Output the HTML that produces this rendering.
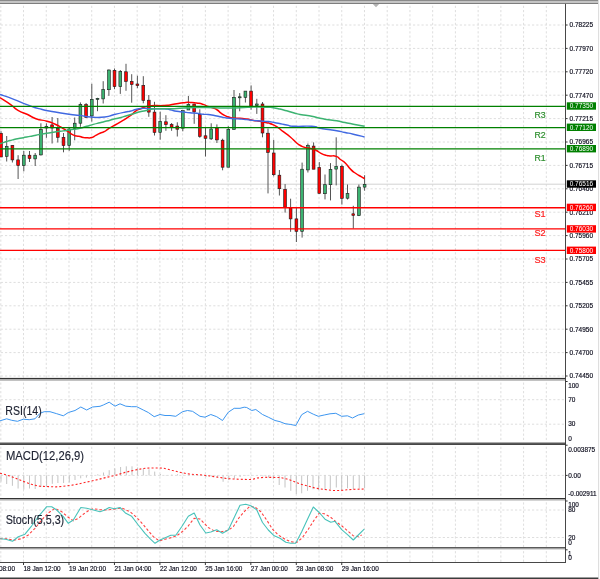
<!DOCTYPE html>
<html><head><meta charset="utf-8"><title>Chart</title>
<style>html,body{margin:0;padding:0;background:#fff;}body{width:600px;height:579px;position:relative;overflow:hidden;}</style>
</head><body>
<svg width="600" height="579" viewBox="0 0 600 579" style="position:absolute;left:0;top:0;display:block">
<rect x="0" y="0" width="600" height="579" fill="#ffffff"/>
<g stroke="#dedede" stroke-width="1" stroke-dasharray="2.2 2.05" stroke-dashoffset="3.5" fill="none">
<line x1="0.8" y1="5" x2="0.8" y2="378"/>
<line x1="23.53" y1="5" x2="23.53" y2="378"/>
<line x1="46.26" y1="5" x2="46.26" y2="378"/>
<line x1="68.99" y1="5" x2="68.99" y2="378"/>
<line x1="91.72" y1="5" x2="91.72" y2="378"/>
<line x1="114.45" y1="5" x2="114.45" y2="378"/>
<line x1="137.18" y1="5" x2="137.18" y2="378"/>
<line x1="159.91" y1="5" x2="159.91" y2="378"/>
<line x1="182.64" y1="5" x2="182.64" y2="378"/>
<line x1="205.37" y1="5" x2="205.37" y2="378"/>
<line x1="228.1" y1="5" x2="228.1" y2="378"/>
<line x1="250.83" y1="5" x2="250.83" y2="378"/>
<line x1="273.56" y1="5" x2="273.56" y2="378"/>
<line x1="296.29" y1="5" x2="296.29" y2="378"/>
<line x1="319.02" y1="5" x2="319.02" y2="378"/>
<line x1="341.75" y1="5" x2="341.75" y2="378"/>
<line x1="364.48" y1="5" x2="364.48" y2="378"/>
<line x1="387.21" y1="5" x2="387.21" y2="378"/>
<line x1="409.94" y1="5" x2="409.94" y2="378"/>
<line x1="432.67" y1="5" x2="432.67" y2="378"/>
<line x1="455.4" y1="5" x2="455.4" y2="378"/>
<line x1="478.13" y1="5" x2="478.13" y2="378"/>
<line x1="500.86" y1="5" x2="500.86" y2="378"/>
<line x1="523.59" y1="5" x2="523.59" y2="378"/>
<line x1="546.32" y1="5" x2="546.32" y2="378"/>
<line x1="0.8" y1="381.8" x2="0.8" y2="442.4"/>
<line x1="23.53" y1="381.8" x2="23.53" y2="442.4"/>
<line x1="46.26" y1="381.8" x2="46.26" y2="442.4"/>
<line x1="68.99" y1="381.8" x2="68.99" y2="442.4"/>
<line x1="91.72" y1="381.8" x2="91.72" y2="442.4"/>
<line x1="114.45" y1="381.8" x2="114.45" y2="442.4"/>
<line x1="137.18" y1="381.8" x2="137.18" y2="442.4"/>
<line x1="159.91" y1="381.8" x2="159.91" y2="442.4"/>
<line x1="182.64" y1="381.8" x2="182.64" y2="442.4"/>
<line x1="205.37" y1="381.8" x2="205.37" y2="442.4"/>
<line x1="228.1" y1="381.8" x2="228.1" y2="442.4"/>
<line x1="250.83" y1="381.8" x2="250.83" y2="442.4"/>
<line x1="273.56" y1="381.8" x2="273.56" y2="442.4"/>
<line x1="296.29" y1="381.8" x2="296.29" y2="442.4"/>
<line x1="319.02" y1="381.8" x2="319.02" y2="442.4"/>
<line x1="341.75" y1="381.8" x2="341.75" y2="442.4"/>
<line x1="364.48" y1="381.8" x2="364.48" y2="442.4"/>
<line x1="387.21" y1="381.8" x2="387.21" y2="442.4"/>
<line x1="409.94" y1="381.8" x2="409.94" y2="442.4"/>
<line x1="432.67" y1="381.8" x2="432.67" y2="442.4"/>
<line x1="455.4" y1="381.8" x2="455.4" y2="442.4"/>
<line x1="478.13" y1="381.8" x2="478.13" y2="442.4"/>
<line x1="500.86" y1="381.8" x2="500.86" y2="442.4"/>
<line x1="523.59" y1="381.8" x2="523.59" y2="442.4"/>
<line x1="546.32" y1="381.8" x2="546.32" y2="442.4"/>
<line x1="0.8" y1="446" x2="0.8" y2="498"/>
<line x1="23.53" y1="446" x2="23.53" y2="498"/>
<line x1="46.26" y1="446" x2="46.26" y2="498"/>
<line x1="68.99" y1="446" x2="68.99" y2="498"/>
<line x1="91.72" y1="446" x2="91.72" y2="498"/>
<line x1="114.45" y1="446" x2="114.45" y2="498"/>
<line x1="137.18" y1="446" x2="137.18" y2="498"/>
<line x1="159.91" y1="446" x2="159.91" y2="498"/>
<line x1="182.64" y1="446" x2="182.64" y2="498"/>
<line x1="205.37" y1="446" x2="205.37" y2="498"/>
<line x1="228.1" y1="446" x2="228.1" y2="498"/>
<line x1="250.83" y1="446" x2="250.83" y2="498"/>
<line x1="273.56" y1="446" x2="273.56" y2="498"/>
<line x1="296.29" y1="446" x2="296.29" y2="498"/>
<line x1="319.02" y1="446" x2="319.02" y2="498"/>
<line x1="341.75" y1="446" x2="341.75" y2="498"/>
<line x1="364.48" y1="446" x2="364.48" y2="498"/>
<line x1="387.21" y1="446" x2="387.21" y2="498"/>
<line x1="409.94" y1="446" x2="409.94" y2="498"/>
<line x1="432.67" y1="446" x2="432.67" y2="498"/>
<line x1="455.4" y1="446" x2="455.4" y2="498"/>
<line x1="478.13" y1="446" x2="478.13" y2="498"/>
<line x1="500.86" y1="446" x2="500.86" y2="498"/>
<line x1="523.59" y1="446" x2="523.59" y2="498"/>
<line x1="546.32" y1="446" x2="546.32" y2="498"/>
<line x1="0.8" y1="501.6" x2="0.8" y2="547.2"/>
<line x1="23.53" y1="501.6" x2="23.53" y2="547.2"/>
<line x1="46.26" y1="501.6" x2="46.26" y2="547.2"/>
<line x1="68.99" y1="501.6" x2="68.99" y2="547.2"/>
<line x1="91.72" y1="501.6" x2="91.72" y2="547.2"/>
<line x1="114.45" y1="501.6" x2="114.45" y2="547.2"/>
<line x1="137.18" y1="501.6" x2="137.18" y2="547.2"/>
<line x1="159.91" y1="501.6" x2="159.91" y2="547.2"/>
<line x1="182.64" y1="501.6" x2="182.64" y2="547.2"/>
<line x1="205.37" y1="501.6" x2="205.37" y2="547.2"/>
<line x1="228.1" y1="501.6" x2="228.1" y2="547.2"/>
<line x1="250.83" y1="501.6" x2="250.83" y2="547.2"/>
<line x1="273.56" y1="501.6" x2="273.56" y2="547.2"/>
<line x1="296.29" y1="501.6" x2="296.29" y2="547.2"/>
<line x1="319.02" y1="501.6" x2="319.02" y2="547.2"/>
<line x1="341.75" y1="501.6" x2="341.75" y2="547.2"/>
<line x1="364.48" y1="501.6" x2="364.48" y2="547.2"/>
<line x1="387.21" y1="501.6" x2="387.21" y2="547.2"/>
<line x1="409.94" y1="501.6" x2="409.94" y2="547.2"/>
<line x1="432.67" y1="501.6" x2="432.67" y2="547.2"/>
<line x1="455.4" y1="501.6" x2="455.4" y2="547.2"/>
<line x1="478.13" y1="501.6" x2="478.13" y2="547.2"/>
<line x1="500.86" y1="501.6" x2="500.86" y2="547.2"/>
<line x1="523.59" y1="501.6" x2="523.59" y2="547.2"/>
<line x1="546.32" y1="501.6" x2="546.32" y2="547.2"/>
<line x1="0.8" y1="550.4" x2="0.8" y2="562"/>
<line x1="23.53" y1="550.4" x2="23.53" y2="562"/>
<line x1="46.26" y1="550.4" x2="46.26" y2="562"/>
<line x1="68.99" y1="550.4" x2="68.99" y2="562"/>
<line x1="91.72" y1="550.4" x2="91.72" y2="562"/>
<line x1="114.45" y1="550.4" x2="114.45" y2="562"/>
<line x1="137.18" y1="550.4" x2="137.18" y2="562"/>
<line x1="159.91" y1="550.4" x2="159.91" y2="562"/>
<line x1="182.64" y1="550.4" x2="182.64" y2="562"/>
<line x1="205.37" y1="550.4" x2="205.37" y2="562"/>
<line x1="228.1" y1="550.4" x2="228.1" y2="562"/>
<line x1="250.83" y1="550.4" x2="250.83" y2="562"/>
<line x1="273.56" y1="550.4" x2="273.56" y2="562"/>
<line x1="296.29" y1="550.4" x2="296.29" y2="562"/>
<line x1="319.02" y1="550.4" x2="319.02" y2="562"/>
<line x1="341.75" y1="550.4" x2="341.75" y2="562"/>
<line x1="364.48" y1="550.4" x2="364.48" y2="562"/>
<line x1="387.21" y1="550.4" x2="387.21" y2="562"/>
<line x1="409.94" y1="550.4" x2="409.94" y2="562"/>
<line x1="432.67" y1="550.4" x2="432.67" y2="562"/>
<line x1="455.4" y1="550.4" x2="455.4" y2="562"/>
<line x1="478.13" y1="550.4" x2="478.13" y2="562"/>
<line x1="500.86" y1="550.4" x2="500.86" y2="562"/>
<line x1="523.59" y1="550.4" x2="523.59" y2="562"/>
<line x1="546.32" y1="550.4" x2="546.32" y2="562"/>
<line x1="0" y1="25" x2="565" y2="25"/>
<line x1="0" y1="48.4" x2="565" y2="48.4"/>
<line x1="0" y1="71.8" x2="565" y2="71.8"/>
<line x1="0" y1="95.2" x2="565" y2="95.2"/>
<line x1="0" y1="118.6" x2="565" y2="118.6"/>
<line x1="0" y1="142" x2="565" y2="142"/>
<line x1="0" y1="165.4" x2="565" y2="165.4"/>
<line x1="0" y1="188.8" x2="565" y2="188.8"/>
<line x1="0" y1="212.2" x2="565" y2="212.2"/>
<line x1="0" y1="235.6" x2="565" y2="235.6"/>
<line x1="0" y1="259" x2="565" y2="259"/>
<line x1="0" y1="282.4" x2="565" y2="282.4"/>
<line x1="0" y1="305.8" x2="565" y2="305.8"/>
<line x1="0" y1="329.2" x2="565" y2="329.2"/>
<line x1="0" y1="352.6" x2="565" y2="352.6"/>
<line x1="0" y1="376" x2="565" y2="376"/>
<line x1="0" y1="399.7" x2="565" y2="399.7"/>
<line x1="0" y1="424.2" x2="565" y2="424.2"/>
<line x1="0" y1="475.4" x2="565" y2="475.4"/>
<line x1="0" y1="510" x2="565" y2="510"/>
<line x1="0" y1="537.5" x2="565" y2="537.5"/>
</g>
<line x1="0" y1="184.2" x2="565" y2="184.2" stroke="#d2d2d2" stroke-width="1"/>
<g>
<line x1="1" y1="131.2" x2="1" y2="157" stroke="#555" stroke-width="1"/>
<line x1="6.7" y1="136" x2="6.7" y2="161.5" stroke="#555" stroke-width="1"/>
<line x1="12.4" y1="145" x2="12.4" y2="162.5" stroke="#555" stroke-width="1"/>
<line x1="18.1" y1="155.2" x2="18.1" y2="179" stroke="#555" stroke-width="1"/>
<line x1="23.8" y1="151" x2="23.8" y2="171.3" stroke="#555" stroke-width="1"/>
<line x1="29.5" y1="151" x2="29.5" y2="162" stroke="#555" stroke-width="1"/>
<line x1="35.2" y1="153" x2="35.2" y2="166" stroke="#555" stroke-width="1"/>
<line x1="40.9" y1="123.3" x2="40.9" y2="155.5" stroke="#555" stroke-width="1"/>
<line x1="46.4" y1="123.3" x2="46.4" y2="137.8" stroke="#555" stroke-width="1"/>
<line x1="52.1" y1="117" x2="52.1" y2="143.5" stroke="#555" stroke-width="1"/>
<line x1="57.8" y1="118" x2="57.8" y2="142.5" stroke="#555" stroke-width="1"/>
<line x1="63.5" y1="133" x2="63.5" y2="152.3" stroke="#555" stroke-width="1"/>
<line x1="69.2" y1="128" x2="69.2" y2="150.8" stroke="#555" stroke-width="1"/>
<line x1="74.7" y1="117.5" x2="74.7" y2="140.3" stroke="#555" stroke-width="1"/>
<line x1="80.4" y1="102.4" x2="80.4" y2="126.8" stroke="#555" stroke-width="1"/>
<line x1="86.1" y1="103" x2="86.1" y2="118" stroke="#555" stroke-width="1"/>
<line x1="91.8" y1="83.8" x2="91.8" y2="121.6" stroke="#555" stroke-width="1"/>
<line x1="97.5" y1="97.8" x2="97.5" y2="111.2" stroke="#555" stroke-width="1"/>
<line x1="103.2" y1="81.2" x2="103.2" y2="103.5" stroke="#555" stroke-width="1"/>
<line x1="108.9" y1="69.5" x2="108.9" y2="95.9" stroke="#555" stroke-width="1"/>
<line x1="114.5" y1="68.5" x2="114.5" y2="89.2" stroke="#555" stroke-width="1"/>
<line x1="120.3" y1="70" x2="120.3" y2="93.9" stroke="#555" stroke-width="1"/>
<line x1="126" y1="63.8" x2="126" y2="90.8" stroke="#555" stroke-width="1"/>
<line x1="131.7" y1="74.2" x2="131.7" y2="102.7" stroke="#555" stroke-width="1"/>
<line x1="137.4" y1="75.7" x2="137.4" y2="88.2" stroke="#555" stroke-width="1"/>
<line x1="143.3" y1="76.2" x2="143.3" y2="103.3" stroke="#555" stroke-width="1"/>
<line x1="148.8" y1="95" x2="148.8" y2="116.8" stroke="#555" stroke-width="1"/>
<line x1="154.5" y1="101.8" x2="154.5" y2="135.5" stroke="#555" stroke-width="1"/>
<line x1="160.2" y1="111.6" x2="160.2" y2="139.7" stroke="#555" stroke-width="1"/>
<line x1="165.9" y1="115.2" x2="165.9" y2="130.8" stroke="#555" stroke-width="1"/>
<line x1="171.6" y1="123" x2="171.6" y2="130.8" stroke="#555" stroke-width="1"/>
<line x1="177.3" y1="122.3" x2="177.3" y2="136.5" stroke="#555" stroke-width="1"/>
<line x1="182.8" y1="110.6" x2="182.8" y2="131.3" stroke="#555" stroke-width="1"/>
<line x1="188.4" y1="96" x2="188.4" y2="110" stroke="#555" stroke-width="1"/>
<line x1="194.2" y1="103.6" x2="194.2" y2="123.8" stroke="#555" stroke-width="1"/>
<line x1="199.8" y1="109.3" x2="199.8" y2="137.8" stroke="#555" stroke-width="1"/>
<line x1="205.5" y1="126.9" x2="205.5" y2="156.5" stroke="#555" stroke-width="1"/>
<line x1="211.2" y1="123.3" x2="211.2" y2="139.9" stroke="#555" stroke-width="1"/>
<line x1="216.9" y1="124.4" x2="216.9" y2="143" stroke="#555" stroke-width="1"/>
<line x1="222.6" y1="138.7" x2="222.6" y2="170.3" stroke="#555" stroke-width="1"/>
<line x1="228.3" y1="126.2" x2="228.3" y2="167.2" stroke="#555" stroke-width="1"/>
<line x1="234" y1="90" x2="234" y2="129.4" stroke="#555" stroke-width="1"/>
<line x1="239.7" y1="93.1" x2="239.7" y2="111.3" stroke="#555" stroke-width="1"/>
<line x1="245.4" y1="91.1" x2="245.4" y2="102.5" stroke="#555" stroke-width="1"/>
<line x1="251.1" y1="85.4" x2="251.1" y2="109.7" stroke="#555" stroke-width="1"/>
<line x1="256.8" y1="98.8" x2="256.8" y2="113.9" stroke="#555" stroke-width="1"/>
<line x1="262.5" y1="102" x2="262.5" y2="137.3" stroke="#555" stroke-width="1"/>
<line x1="268" y1="128.5" x2="268" y2="193.4" stroke="#555" stroke-width="1"/>
<line x1="273.7" y1="139.9" x2="273.7" y2="176.3" stroke="#555" stroke-width="1"/>
<line x1="279.4" y1="170" x2="279.4" y2="195.5" stroke="#555" stroke-width="1"/>
<line x1="285.1" y1="184.1" x2="285.1" y2="212.6" stroke="#555" stroke-width="1"/>
<line x1="290.6" y1="198.7" x2="290.6" y2="231.8" stroke="#555" stroke-width="1"/>
<line x1="296.4" y1="208" x2="296.4" y2="242" stroke="#555" stroke-width="1"/>
<line x1="302.1" y1="162.6" x2="302.1" y2="237.6" stroke="#555" stroke-width="1"/>
<line x1="307.9" y1="143.5" x2="307.9" y2="172.5" stroke="#555" stroke-width="1"/>
<line x1="313.6" y1="142.4" x2="313.6" y2="169.2" stroke="#555" stroke-width="1"/>
<line x1="319.3" y1="162.1" x2="319.3" y2="193.4" stroke="#555" stroke-width="1"/>
<line x1="325" y1="174.5" x2="325" y2="199.4" stroke="#555" stroke-width="1"/>
<line x1="330.5" y1="163.1" x2="330.5" y2="200.4" stroke="#555" stroke-width="1"/>
<line x1="336.2" y1="137.3" x2="336.2" y2="185.4" stroke="#555" stroke-width="1"/>
<line x1="341.9" y1="164.7" x2="341.9" y2="204.6" stroke="#555" stroke-width="1"/>
<line x1="347.5" y1="184.5" x2="347.5" y2="199.5" stroke="#555" stroke-width="1"/>
<line x1="353.3" y1="205.8" x2="353.3" y2="228.5" stroke="#555" stroke-width="1"/>
<line x1="358.9" y1="184.5" x2="358.9" y2="216.1" stroke="#555" stroke-width="1"/>
<line x1="364.6" y1="175.2" x2="364.6" y2="190.7" stroke="#555" stroke-width="1"/>
<rect x="-0.4" y="133.3" width="2.8" height="23.7" fill="#ff0000" stroke="#1a1a1a" stroke-width="0.6"/>
<rect x="5.3" y="146.4" width="2.8" height="9.9" fill="#3cb371" stroke="#1a1a1a" stroke-width="0.6"/>
<rect x="11" y="145.4" width="2.8" height="14.5" fill="#ff0000" stroke="#1a1a1a" stroke-width="0.6"/>
<rect x="16.7" y="159.9" width="2.8" height="5.7" fill="#ff0000" stroke="#1a1a1a" stroke-width="0.6"/>
<rect x="22.4" y="155.2" width="2.8" height="10.4" fill="#3cb371" stroke="#1a1a1a" stroke-width="0.6"/>
<rect x="28.1" y="155.2" width="2.8" height="3.3" fill="#ff0000" stroke="#1a1a1a" stroke-width="0.6"/>
<rect x="33.8" y="155.2" width="2.8" height="3.7" fill="#3cb371" stroke="#1a1a1a" stroke-width="0.6"/>
<rect x="39.5" y="129.5" width="2.8" height="25.4" fill="#3cb371" stroke="#1a1a1a" stroke-width="0.6"/>
<rect x="45" y="126.4" width="2.8" height="1.6" fill="#3cb371" stroke="#1a1a1a" stroke-width="0.6"/>
<rect x="50.7" y="124.9" width="2.8" height="3.1" fill="#ff0000" stroke="#1a1a1a" stroke-width="0.6"/>
<rect x="56.4" y="128.5" width="2.8" height="8.8" fill="#ff0000" stroke="#1a1a1a" stroke-width="0.6"/>
<rect x="62.1" y="137.3" width="2.8" height="8.3" fill="#ff0000" stroke="#1a1a1a" stroke-width="0.6"/>
<rect x="67.8" y="129" width="2.8" height="16.6" fill="#3cb371" stroke="#1a1a1a" stroke-width="0.6"/>
<rect x="73.3" y="123.2" width="2.8" height="5.1" fill="#3cb371" stroke="#1a1a1a" stroke-width="0.6"/>
<rect x="79" y="104.5" width="2.8" height="18.7" fill="#3cb371" stroke="#1a1a1a" stroke-width="0.6"/>
<rect x="84.7" y="104.5" width="2.8" height="13" fill="#ff0000" stroke="#1a1a1a" stroke-width="0.6"/>
<rect x="90.4" y="99.3" width="2.8" height="16.6" fill="#3cb371" stroke="#1a1a1a" stroke-width="0.6"/>
<rect x="96.1" y="98.3" width="2.8" height="1.2" fill="#3cb371" stroke="#1a1a1a" stroke-width="0.6"/>
<rect x="101.8" y="89.5" width="2.8" height="9.4" fill="#3cb371" stroke="#1a1a1a" stroke-width="0.6"/>
<rect x="107.5" y="70" width="2.8" height="19.7" fill="#3cb371" stroke="#1a1a1a" stroke-width="0.6"/>
<rect x="113.1" y="70.3" width="2.8" height="16.3" fill="#ff0000" stroke="#1a1a1a" stroke-width="0.6"/>
<rect x="118.9" y="71.6" width="2.8" height="15" fill="#3cb371" stroke="#1a1a1a" stroke-width="0.6"/>
<rect x="124.6" y="71.8" width="2.8" height="9.6" fill="#ff0000" stroke="#1a1a1a" stroke-width="0.6"/>
<rect x="130.3" y="81.4" width="2.8" height="3.1" fill="#ff0000" stroke="#1a1a1a" stroke-width="0.6"/>
<rect x="136" y="84" width="2.8" height="1.6" fill="#ff0000" stroke="#1a1a1a" stroke-width="0.6"/>
<rect x="141.9" y="85.4" width="2.8" height="15" fill="#ff0000" stroke="#1a1a1a" stroke-width="0.6"/>
<rect x="147.4" y="100.2" width="2.8" height="11.9" fill="#ff0000" stroke="#1a1a1a" stroke-width="0.6"/>
<rect x="153.1" y="112.1" width="2.8" height="20.3" fill="#ff0000" stroke="#1a1a1a" stroke-width="0.6"/>
<rect x="158.8" y="121.5" width="2.8" height="10.8" fill="#3cb371" stroke="#1a1a1a" stroke-width="0.6"/>
<rect x="164.5" y="121.8" width="2.8" height="2.8" fill="#ff0000" stroke="#1a1a1a" stroke-width="0.6"/>
<rect x="170.2" y="124.6" width="2.8" height="2.6" fill="#ff0000" stroke="#1a1a1a" stroke-width="0.6"/>
<rect x="175.9" y="126.1" width="2.8" height="3.1" fill="#ff0000" stroke="#1a1a1a" stroke-width="0.6"/>
<rect x="181.4" y="110.6" width="2.8" height="17.6" fill="#3cb371" stroke="#1a1a1a" stroke-width="0.6"/>
<rect x="187" y="104.4" width="2.8" height="5.6" fill="#3cb371" stroke="#1a1a1a" stroke-width="0.6"/>
<rect x="192.8" y="104.1" width="2.8" height="7.8" fill="#ff0000" stroke="#1a1a1a" stroke-width="0.6"/>
<rect x="198.4" y="114.5" width="2.8" height="21.8" fill="#ff0000" stroke="#1a1a1a" stroke-width="0.6"/>
<rect x="204.1" y="135.8" width="2.8" height="2.5" fill="#ff0000" stroke="#1a1a1a" stroke-width="0.6"/>
<rect x="209.8" y="129" width="2.8" height="9.9" fill="#3cb371" stroke="#1a1a1a" stroke-width="0.6"/>
<rect x="215.5" y="128" width="2.8" height="11.9" fill="#ff0000" stroke="#1a1a1a" stroke-width="0.6"/>
<rect x="221.2" y="140.2" width="2.8" height="27" fill="#ff0000" stroke="#1a1a1a" stroke-width="0.6"/>
<rect x="226.9" y="129.3" width="2.8" height="37.9" fill="#3cb371" stroke="#1a1a1a" stroke-width="0.6"/>
<rect x="232.6" y="97.3" width="2.8" height="32.1" fill="#3cb371" stroke="#1a1a1a" stroke-width="0.6"/>
<rect x="238.3" y="96.8" width="2.8" height="1" fill="#3cb371" stroke="#1a1a1a" stroke-width="0.6"/>
<rect x="244" y="91.1" width="2.8" height="6.2" fill="#3cb371" stroke="#1a1a1a" stroke-width="0.6"/>
<rect x="249.7" y="91.1" width="2.8" height="15" fill="#ff0000" stroke="#1a1a1a" stroke-width="0.6"/>
<rect x="255.4" y="104" width="2.8" height="1.6" fill="#3cb371" stroke="#1a1a1a" stroke-width="0.6"/>
<rect x="261.1" y="104" width="2.8" height="29" fill="#ff0000" stroke="#1a1a1a" stroke-width="0.6"/>
<rect x="266.6" y="133.2" width="2.8" height="19.2" fill="#ff0000" stroke="#1a1a1a" stroke-width="0.6"/>
<rect x="272.3" y="153" width="2.8" height="21.7" fill="#ff0000" stroke="#1a1a1a" stroke-width="0.6"/>
<rect x="278" y="175.2" width="2.8" height="13.5" fill="#ff0000" stroke="#1a1a1a" stroke-width="0.6"/>
<rect x="283.7" y="189.3" width="2.8" height="17.9" fill="#ff0000" stroke="#1a1a1a" stroke-width="0.6"/>
<rect x="289.2" y="208" width="2.8" height="10.9" fill="#ff0000" stroke="#1a1a1a" stroke-width="0.6"/>
<rect x="295" y="218.9" width="2.8" height="12.4" fill="#ff0000" stroke="#1a1a1a" stroke-width="0.6"/>
<rect x="300.7" y="169.2" width="2.8" height="62.1" fill="#3cb371" stroke="#1a1a1a" stroke-width="0.6"/>
<rect x="306.5" y="145.3" width="2.8" height="24.6" fill="#3cb371" stroke="#1a1a1a" stroke-width="0.6"/>
<rect x="312.2" y="146.1" width="2.8" height="23.1" fill="#ff0000" stroke="#1a1a1a" stroke-width="0.6"/>
<rect x="317.9" y="167.5" width="2.8" height="25.9" fill="#ff0000" stroke="#1a1a1a" stroke-width="0.6"/>
<rect x="323.6" y="184.7" width="2.8" height="9" fill="#3cb371" stroke="#1a1a1a" stroke-width="0.6"/>
<rect x="329.1" y="169.3" width="2.8" height="15.4" fill="#3cb371" stroke="#1a1a1a" stroke-width="0.6"/>
<rect x="334.8" y="166.4" width="2.8" height="2.7" fill="#3cb371" stroke="#1a1a1a" stroke-width="0.6"/>
<rect x="340.5" y="166.4" width="2.8" height="31.9" fill="#ff0000" stroke="#1a1a1a" stroke-width="0.6"/>
<rect x="346.1" y="193.6" width="2.8" height="4.6" fill="#3cb371" stroke="#1a1a1a" stroke-width="0.6"/>
<rect x="351.9" y="213.8" width="2.8" height="1.6" fill="#ff0000" stroke="#1a1a1a" stroke-width="0.6"/>
<rect x="357.5" y="187.1" width="2.8" height="28.5" fill="#3cb371" stroke="#1a1a1a" stroke-width="0.6"/>
<rect x="363.2" y="184.3" width="2.8" height="2.8" fill="#3cb371" stroke="#1a1a1a" stroke-width="0.6"/>
</g>
<path d="M0,97.7 C3.67,100.1 5,100.67 11,104.9 C17,109.13 12.47,107.2 18,110.4 C23.53,113.6 21.63,111.73 27.6,114.5 C33.57,117.27 29.43,116.47 35.9,118.7 C42.37,120.93 40.57,119.37 47,121.2 C53.43,123.03 50.87,122.37 55.2,124.2 C59.53,126.03 57,125.03 60,126.7 C63,128.37 61.43,127.53 64.2,129.2 C66.97,130.87 65.53,129.9 68.3,131.7 C71.07,133.5 69.7,133.17 72.5,134.6 C75.3,136.03 74.2,135.37 76.7,136 C79.2,136.63 77.8,136 80,136.5 C82.2,137 80.8,137.07 83.3,137.5 C85.8,137.93 84.7,137.8 87.5,137.8 C90.3,137.8 88.93,138.3 91.7,137.5 C94.47,136.7 93.03,136.8 95.8,135.4 C98.57,134 97.2,134.53 100,133.3 C102.8,132.07 101.43,133.2 104.2,131.7 C106.97,130.2 105.77,130.43 108.3,128.8 C110.83,127.17 107.43,129.27 111.8,126.8 C116.17,124.33 115,125.27 121.4,121.4 C127.8,117.53 126.37,118.57 131,115.2 C135.63,111.83 132.07,113.47 135.3,111.3 C138.53,109.13 137.13,110.23 140.7,108.7 C144.27,107.17 142.47,107.7 146,106.7 C149.53,105.7 145.53,106.07 151.3,105.7 C157.07,105.33 157.07,105.87 163.3,105.6 C169.53,105.33 165.53,105.53 170,104.9 C174.47,104.27 172.27,104.43 176.7,103.7 C181.13,102.97 178.87,103.13 183.3,102.7 C187.73,102.27 185.53,102.3 190,102.4 C194.47,102.5 192.27,102.33 196.7,103 C201.13,103.67 199.53,103.23 203.3,104.4 C207.07,105.57 204.67,105.3 208,106.5 C211.33,107.7 210.2,106.83 213.3,108 C216.4,109.17 214.63,108.23 217.3,110 C219.97,111.77 218.17,111.17 221.3,113.3 C224.43,115.43 222.7,114.83 226.7,116.4 C230.7,117.97 228.87,117.37 233.3,118 C237.73,118.63 235.53,117.97 240,118.3 C244.47,118.63 242.27,118.3 246.7,119 C251.13,119.7 248.87,119.63 253.3,120.4 C257.73,121.17 255.53,120.53 260,121.3 C264.47,122.07 263.37,121.97 266.7,122.7 C270.03,123.43 266.67,122.17 270,123.5 C273.33,124.83 272.27,123.97 276.7,126.7 C281.13,129.43 278.87,128.33 283.3,131.7 C287.73,135.07 285.53,133.03 290,136.8 C294.47,140.57 293.23,140.1 296.7,143 C300.17,145.9 297.47,143.97 300.4,145.5 C303.33,147.03 302.07,146.63 305.5,147.6 C308.93,148.57 307.23,147.53 310.7,148.4 C314.17,149.27 312.47,148.57 315.9,150.2 C319.33,151.83 317.53,151.57 321,153.3 C324.47,155.03 323.3,154.53 326.3,155.4 C329.3,156.27 326.7,155.57 330,155.9 C333.3,156.23 332.73,155.2 336.2,156.4 C339.67,157.6 337.3,157.23 340.4,159.5 C343.5,161.77 342.07,159.9 345.5,163.2 C348.93,166.5 347.23,165.97 350.7,169.4 C354.17,172.83 352.43,171.1 355.9,173.5 C359.37,175.9 358.17,174.87 361.1,176.6 C364.03,178.33 363.5,178 364.7,178.7" fill="none" stroke="#ff0000" stroke-width="1.5"/>
<path d="M0,94.5 C4.6,96.1 4.6,95.83 13.8,99.3 C23,102.77 18.4,101.57 27.6,104.9 C36.8,108.23 32.2,106.93 41.4,109.3 C50.6,111.67 46,110.33 55.2,112 C64.4,113.67 60.73,113.17 69,114.3 C77.27,115.43 72.67,114.5 80,115.4 C87.33,116.3 82.7,116.47 91,117 C99.3,117.53 97.07,117.83 104.9,117 C112.73,116.17 107.6,116.17 114.5,114.5 C121.4,112.83 120.43,113.07 125.6,112 C130.77,110.93 126.3,112.2 130,111.3 C133.7,110.4 132.27,110.27 136.7,109.3 C141.13,108.33 138.87,108.6 143.3,108.4 C147.73,108.2 145.53,108.6 150,108.7 C154.47,108.8 151.8,108.63 156.7,108.7 C161.6,108.77 160.27,108.57 164.7,108.9 C169.13,109.23 166,108.9 170,109.7 C174,110.5 172.27,110.53 176.7,111.3 C181.13,112.07 178.87,111.53 183.3,112 C187.73,112.47 185.53,112.27 190,112.7 C194.47,113.13 192.27,112.77 196.7,113.3 C201.13,113.83 199.97,113.93 203.3,114.3 C206.63,114.67 203.37,114.07 206.7,114.4 C210.03,114.73 208.87,114.53 213.3,115.3 C217.73,116.07 215.53,115.8 220,116.7 C224.47,117.6 221.8,117.33 226.7,118 C231.6,118.67 230.27,118.37 234.7,118.7 C239.13,119.03 236,118.7 240,119 C244,119.3 242.27,119.13 246.7,119.6 C251.13,120.07 248.87,119.93 253.3,120.4 C257.73,120.87 255.53,120.63 260,121 C264.47,121.37 263.37,121.27 266.7,121.5 C270.03,121.73 266.13,121.1 270,121.7 C273.87,122.3 272.73,122.2 278.3,123.3 C283.87,124.4 281.13,124 286.7,125 C292.27,126 286.67,125.87 295,126.3 C303.33,126.73 303.37,125.63 311.7,126.3 C320.03,126.97 314.47,127.23 320,128.3 C325.53,129.37 322.73,128.67 328.3,129.5 C333.87,130.33 331.13,129.8 336.7,130.8 C342.27,131.8 339.47,131.37 345,132.5 C350.53,133.63 346.77,132.7 353.3,134.2 C359.83,135.7 360.83,136.07 364.6,137" fill="none" stroke="#4169e1" stroke-width="1.4"/>
<path d="M0,143.7 C1.33,143.27 1.33,143.27 4,142.4 C6.67,141.53 4.9,142 8,141.1 C11.1,140.2 9.3,140.63 13.3,139.7 C17.3,138.77 15.53,139.17 20,138.3 C24.47,137.43 22.27,137.97 26.7,137.1 C31.13,136.23 28.87,136.6 33.3,135.7 C37.73,134.8 35.53,135.2 40,134.4 C44.47,133.6 42.27,134 46.7,133.3 C51.13,132.6 48.87,132.97 53.3,132.3 C57.73,131.63 55.53,131.93 60,131.3 C64.47,130.67 62.27,131.07 66.7,130.4 C71.13,129.73 68.87,130 73.3,129.3 C77.73,128.6 75.53,129.3 80,128.3 C84.47,127.3 82.27,127.6 86.7,126.3 C91.13,125 88.87,125.6 93.3,124.4 C97.73,123.2 95.53,123.8 100,122.7 C104.47,121.6 102.27,122.23 106.7,121.1 C111.13,119.97 108.87,120.43 113.3,119.3 C117.73,118.17 115.53,118.9 120,117.7 C124.47,116.5 122.27,117.03 126.7,115.7 C131.13,114.37 128.87,115.03 133.3,113.7 C137.73,112.37 135.53,112.8 140,111.7 C144.47,110.6 143.37,111.2 146.7,110.4 C150.03,109.6 146.67,109.87 150,109.3 C153.33,108.73 150.03,108.9 156.7,108.7 C163.37,108.5 161.13,108.93 170,108.7 C178.87,108.47 174.4,108.37 183.3,108 C192.2,107.63 186.7,107.7 196.7,107.6 C206.7,107.5 203.3,107.57 213.3,107.7 C223.3,107.83 217.8,108 226.7,108 C235.6,108 231.13,108.03 240,107.7 C248.87,107.37 246.63,107.23 253.3,107 C259.97,106.77 255.53,106.9 260,107 C264.47,107.1 263.37,107.23 266.7,107.3 C270.03,107.37 266.13,106.73 270,107.2 C273.87,107.67 272.73,107.5 278.3,108.7 C283.87,109.9 281.13,109.27 286.7,110.8 C292.27,112.33 289.47,111.9 295,113.3 C300.53,114.7 297.73,114.03 303.3,115 C308.87,115.97 306.13,115.1 311.7,116.2 C317.27,117.3 314.47,117.13 320,118.3 C325.53,119.47 322.73,118.87 328.3,119.7 C333.87,120.53 331.13,119.87 336.7,120.8 C342.27,121.73 339.47,121.37 345,122.5 C350.53,123.63 346.77,122.93 353.3,124.2 C359.83,125.47 360.83,125.6 364.6,126.3" fill="none" stroke="#3cb371" stroke-width="1.5"/>
<line x1="0" y1="106.4" x2="565" y2="106.4" stroke="#008000" stroke-width="1.4"/>
<line x1="0" y1="127.6" x2="565" y2="127.6" stroke="#008000" stroke-width="1.4"/>
<line x1="0" y1="148.9" x2="565" y2="148.9" stroke="#008000" stroke-width="1.4"/>
<line x1="0" y1="207.8" x2="565" y2="207.8" stroke="#ff0000" stroke-width="1.4"/>
<line x1="0" y1="228.9" x2="565" y2="228.9" stroke="#ff0000" stroke-width="1.4"/>
<line x1="0" y1="250.4" x2="565" y2="250.4" stroke="#ff0000" stroke-width="1.4"/>
<g font-family="Liberation Sans, Arial, sans-serif" font-size="9.4" stroke-width="0.2">
<text x="534.5" y="117.8" fill="#2f8f2f" stroke="#2f8f2f" textLength="11.2" lengthAdjust="spacingAndGlyphs">R3</text>
<text x="534.5" y="138" fill="#2f8f2f" stroke="#2f8f2f" textLength="11.2" lengthAdjust="spacingAndGlyphs">R2</text>
<text x="534.5" y="160.6" fill="#2f8f2f" stroke="#2f8f2f" textLength="11.2" lengthAdjust="spacingAndGlyphs">R1</text>
<text x="534.5" y="217" fill="#ff2020" stroke="#ff2020" textLength="11.2" lengthAdjust="spacingAndGlyphs">S1</text>
<text x="534.5" y="236.4" fill="#ff2020" stroke="#ff2020" textLength="11.2" lengthAdjust="spacingAndGlyphs">S2</text>
<text x="534.5" y="262.9" fill="#ff2020" stroke="#ff2020" textLength="11.2" lengthAdjust="spacingAndGlyphs">S3</text>
</g>
<polyline points="0,420.8 6.7,418.8 11.7,420.3 17.5,421.3 23.3,419.2 29.2,419.7 35,418.8 40,413.3 44.2,411.7 50,411.7 56.7,413.7 63.3,415.8 68.3,412.5 75,410.5 80.8,407 86.7,410 92.5,407 100,406.3 103.3,405 109.2,402.2 115,406.2 120,403.8 125.8,406.2 131.7,406.7 136.7,406.7 143.3,410 148.3,412.5 154.2,416.7 160,414.5 165,415.5 170,415.5 175.8,416.3 182.5,411.7 187.5,410.5 192.5,411.3 200,416.3 205,417.2 210.8,414.5 216.7,416.7 222.5,420.5 228.3,412.2 234.2,408.3 240,408.3 244.2,407.2 246.7,407.5 251.7,410.5 255.8,409.5 262.5,414.5 268.3,417.2 275,420.5 280,421.7 285,423.7 290.8,424.5 295.8,425.5 301.7,414.7 307.5,411.3 313.3,414.2 318.3,416.3 324.2,415 330,413.8 335.8,413.3 341.7,416.3 347.5,415.8 352.5,418 358.3,415 364.2,413.7" fill="none" stroke="#3d96f0" stroke-width="1" stroke-linejoin="round"/>
<g stroke="#c4c4c4" stroke-width="1">
<line x1="1" y1="475.4" x2="1" y2="481.5"/>
<line x1="6.7" y1="475.4" x2="6.7" y2="484"/>
<line x1="12.4" y1="475.4" x2="12.4" y2="485.8"/>
<line x1="18.1" y1="475.4" x2="18.1" y2="488.5"/>
<line x1="23.8" y1="475.4" x2="23.8" y2="489.5"/>
<line x1="29.5" y1="475.4" x2="29.5" y2="488.5"/>
<line x1="35.2" y1="475.4" x2="35.2" y2="489"/>
<line x1="40.9" y1="475.4" x2="40.9" y2="487"/>
<line x1="46.6" y1="475.4" x2="46.6" y2="486.8"/>
<line x1="52.3" y1="475.4" x2="52.3" y2="483.8"/>
<line x1="57.9" y1="475.4" x2="57.9" y2="483"/>
<line x1="63.6" y1="475.4" x2="63.6" y2="483"/>
<line x1="69.3" y1="475.4" x2="69.3" y2="482.4"/>
<line x1="75" y1="475.4" x2="75" y2="480"/>
<line x1="80.7" y1="475.4" x2="80.7" y2="478.3"/>
<line x1="86.4" y1="475.4" x2="86.4" y2="477.6"/>
<line x1="92.1" y1="475.4" x2="92.1" y2="476.3"/>
<line x1="97.8" y1="475.4" x2="97.8" y2="474.3"/>
<line x1="103.5" y1="475.4" x2="103.5" y2="472.5"/>
<line x1="109.2" y1="475.4" x2="109.2" y2="470.2"/>
<line x1="114.9" y1="475.4" x2="114.9" y2="468.4"/>
<line x1="120.6" y1="475.4" x2="120.6" y2="467"/>
<line x1="126.3" y1="475.4" x2="126.3" y2="466.3"/>
<line x1="132" y1="475.4" x2="132" y2="466.3"/>
<line x1="137.6" y1="475.4" x2="137.6" y2="467.5"/>
<line x1="143.3" y1="475.4" x2="143.3" y2="468.7"/>
<line x1="149" y1="475.4" x2="149" y2="469.3"/>
<line x1="154.7" y1="475.4" x2="154.7" y2="471.6"/>
<line x1="160.4" y1="475.4" x2="160.4" y2="474"/>
<line x1="166.1" y1="475.4" x2="166.1" y2="475"/>
<line x1="171.8" y1="475.4" x2="171.8" y2="474.6"/>
<line x1="177.5" y1="475.4" x2="177.5" y2="474.3"/>
<line x1="183.2" y1="475.4" x2="183.2" y2="474.8"/>
<line x1="188.9" y1="475.4" x2="188.9" y2="474.6"/>
<line x1="194.6" y1="475.4" x2="194.6" y2="475.2"/>
<line x1="200.3" y1="475.4" x2="200.3" y2="476"/>
<line x1="206" y1="475.4" x2="206" y2="477"/>
<line x1="211.7" y1="475.4" x2="211.7" y2="476.5"/>
<line x1="217.4" y1="475.4" x2="217.4" y2="477.5"/>
<line x1="223.1" y1="475.4" x2="223.1" y2="481.8"/>
<line x1="228.8" y1="475.4" x2="228.8" y2="480"/>
<line x1="234.4" y1="475.4" x2="234.4" y2="478.5"/>
<line x1="240.1" y1="475.4" x2="240.1" y2="477"/>
<line x1="245.8" y1="475.4" x2="245.8" y2="475.8"/>
<line x1="251.5" y1="475.4" x2="251.5" y2="474.8"/>
<line x1="257.2" y1="475.4" x2="257.2" y2="475.2"/>
<line x1="262.9" y1="475.4" x2="262.9" y2="476.5"/>
<line x1="268.6" y1="475.4" x2="268.6" y2="477.5"/>
<line x1="273.3" y1="475.4" x2="273.3" y2="479.2"/>
<line x1="279.2" y1="475.4" x2="279.2" y2="485"/>
<line x1="285" y1="475.4" x2="285" y2="487.5"/>
<line x1="290.8" y1="475.4" x2="290.8" y2="490.8"/>
<line x1="296.3" y1="475.4" x2="296.3" y2="494"/>
<line x1="301.7" y1="475.4" x2="301.7" y2="493.3"/>
<line x1="307.5" y1="475.4" x2="307.5" y2="490.8"/>
<line x1="313" y1="475.4" x2="313" y2="489.2"/>
<line x1="318.7" y1="475.4" x2="318.7" y2="490"/>
<line x1="325" y1="475.4" x2="325" y2="490"/>
<line x1="330.3" y1="475.4" x2="330.3" y2="489.2"/>
<line x1="336.3" y1="475.4" x2="336.3" y2="487.5"/>
<line x1="341.7" y1="475.4" x2="341.7" y2="490"/>
<line x1="347.5" y1="475.4" x2="347.5" y2="488.3"/>
<line x1="353.3" y1="475.4" x2="353.3" y2="489.2"/>
<line x1="359.2" y1="475.4" x2="359.2" y2="488.3"/>
<line x1="364.6" y1="475.4" x2="364.6" y2="488.3"/>
</g>
<polyline points="0,473.3 6,474.8 10.5,476.3 14.5,477.7 18.5,479.5 23,481.3 27,482.8 31.5,484.3 35.5,485.3 40,486.3 48.5,486.6 56.2,486.9 66,486 76,484.5 86,482.2 96,480 106,477.5 116,475.2 125,472.4 130,471.2 134,470.3 138,469.5 142,468.7 146,468.2 150,468 160,468 164,468.3 168,469.2 172,470.3 176,471.3 181,472.5 185,473.3 190,474.2 200,474.8 210,476 220,477.5 228,478.7 240,479.3 250,479.5 253,479.2 257,478 265,477.3 280,477.5 287,479 293,481 300,484 308,486 316,488.3 325,489.5 333,490.5 340,490.5 347,489.8 355,489.3 364.6,489" fill="none" stroke="#ff2020" stroke-width="1.1" stroke-dasharray="2 2.1"/>
<polyline points="0,538.7 6.7,538.7 13.3,540.3 21.7,538.7 28.3,535 35,528.3 41.7,520 48.3,513 55,508.3 61.7,511.7 67.5,516.7 73.3,520.8 78.3,518.3 83.3,514.2 88.3,510.8 93.3,508.7 100,509.7 106.7,510 113.3,509.2 121.7,508 130,511.7 136.7,517.5 143.3,524.7 148.3,530.8 153.3,536.7 159.2,540.8 165,539.2 171.7,537.5 176.7,535.8 183.3,530.8 188.3,525.8 194.2,518.3 200,519 208.3,527.5 215,531.3 221.7,531.7 228.3,530.3 233.3,526.7 239.2,517.5 245,510.8 250,506.3 255,507 260.8,511.7 266.7,520 272.5,529.2 278.3,535 285,539.2 290.8,541.8 296.7,542.5 302.5,537.5 308.3,529.2 314.2,520 319.2,513.3 324.2,513.7 330,516.7 335.8,521.7 341.7,525.8 347.5,530.8 353.3,535.8 358.3,536.7 361.7,535" fill="none" stroke="#ff4040" stroke-width="1.1" stroke-dasharray="2.6 2"/>
<polyline points="0,538.7 5.8,539.2 12.5,541.3 18.3,536.7 25,534.2 31.7,525.8 38.3,516.7 46.7,506.7 51.7,506.7 56.7,510 63.3,516.7 68.3,523.3 73.3,520 80.8,507.5 86.7,508.3 92.5,509.7 100,511.7 104.2,510.3 109.2,507.5 114.2,508.7 120,507.5 125.8,513.3 131.7,516.3 138.3,525 145,533.3 150,538.7 155,543.3 160,540 165.8,537.5 170.8,535.3 175.8,535.3 181.7,526.7 188.3,516.3 194.2,513 200,525 205.8,533 210.8,532 216.7,529.7 222.5,533.3 228.3,530 234.2,517.5 240,505.3 245.8,504.2 250.8,505.8 256.7,509.7 262.5,522.5 268.3,530 274.2,535.8 280,538.3 285.8,542.3 290.8,543.3 295.8,543.1 301.7,531.7 307.5,519.2 313.3,507 319.2,512.5 325,519.2 330.8,522.2 335,521.3 341.7,529.7 347.5,534.7 353.3,540 358.3,535 364.2,529.2" fill="none" stroke="#48c2ba" stroke-width="1.1" stroke-linejoin="round"/>
<rect x="0" y="0" width="598" height="1" fill="#8a8a8a"/>
<rect x="0" y="1" width="598" height="2" fill="#c4c4c4"/>
<rect x="0" y="3" width="598" height="0.9" fill="#707070"/>
<polygon points="372.8,3.9 379.2,3.9 376,7.2" fill="#b4b4b4"/>
<rect x="0" y="377.9" width="565.5" height="1.2" fill="#333333"/>
<rect x="0" y="379.1" width="565.5" height="1.6" fill="#a9a9a9"/>
<rect x="0" y="442.2" width="565.5" height="0.9" fill="#9a9a9a"/>
<rect x="0" y="443.2" width="565.5" height="1.7" fill="#333333"/>
<rect x="0" y="498" width="565.5" height="1.3" fill="#333333"/>
<rect x="0" y="499.3" width="565.5" height="1.2" fill="#a9a9a9"/>
<rect x="0" y="547.2" width="565.5" height="1.3" fill="#333333"/>
<rect x="0" y="548.5" width="565.5" height="0.9" fill="#a9a9a9"/>
<rect x="0" y="562" width="565.5" height="0.9" fill="#333333"/>
<rect x="565.1" y="3.9" width="0.9" height="559" fill="#333"/>
<rect x="0" y="577.5" width="599" height="1.5" fill="#3c3c3c"/>
<rect x="598.2" y="0" width="0.9" height="579" fill="#d6d6d6"/>
<g font-family="Liberation Sans, Arial, sans-serif" font-size="6.8" fill="#101020" stroke="#101020" stroke-width="0.18">
<text x="569.6" y="27.45" textLength="23.4" lengthAdjust="spacingAndGlyphs">0.78225</text>
<text x="569.6" y="50.85" textLength="23.4" lengthAdjust="spacingAndGlyphs">0.77970</text>
<text x="569.6" y="74.25" textLength="23.4" lengthAdjust="spacingAndGlyphs">0.77720</text>
<text x="569.6" y="97.65" textLength="23.4" lengthAdjust="spacingAndGlyphs">0.77470</text>
<text x="569.6" y="121.05" textLength="23.4" lengthAdjust="spacingAndGlyphs">0.77215</text>
<text x="569.6" y="144.45" textLength="23.4" lengthAdjust="spacingAndGlyphs">0.76965</text>
<text x="569.6" y="167.85" textLength="23.4" lengthAdjust="spacingAndGlyphs">0.76715</text>
<text x="569.6" y="191.25" textLength="23.4" lengthAdjust="spacingAndGlyphs">0.76460</text>
<text x="569.6" y="214.65" textLength="23.4" lengthAdjust="spacingAndGlyphs">0.76210</text>
<text x="569.6" y="238.05" textLength="23.4" lengthAdjust="spacingAndGlyphs">0.75960</text>
<text x="569.6" y="261.45" textLength="23.4" lengthAdjust="spacingAndGlyphs">0.75705</text>
<text x="569.6" y="284.85" textLength="23.4" lengthAdjust="spacingAndGlyphs">0.75455</text>
<text x="569.6" y="308.25" textLength="23.4" lengthAdjust="spacingAndGlyphs">0.75205</text>
<text x="569.6" y="331.65" textLength="23.4" lengthAdjust="spacingAndGlyphs">0.74950</text>
<text x="569.6" y="355.05" textLength="23.4" lengthAdjust="spacingAndGlyphs">0.74700</text>
<text x="569.6" y="378.45" textLength="23.4" lengthAdjust="spacingAndGlyphs">0.74450</text>
<text x="568.2" y="387.65" textLength="10.7" lengthAdjust="spacingAndGlyphs">100</text>
<text x="568.2" y="402.15" textLength="7.2" lengthAdjust="spacingAndGlyphs">70</text>
<text x="568.2" y="426.35" textLength="7.2" lengthAdjust="spacingAndGlyphs">30</text>
<text x="568.2" y="440.85" textLength="3.6" lengthAdjust="spacingAndGlyphs">0</text>
<text x="568.2" y="451.85" textLength="27" lengthAdjust="spacingAndGlyphs">0.003875</text>
<text x="568.2" y="478.15" textLength="12.6" lengthAdjust="spacingAndGlyphs">0.00</text>
<text x="568.2" y="495.65" textLength="28.4" lengthAdjust="spacingAndGlyphs">-0.002911</text>
<text x="568.2" y="507.35" textLength="10.7" lengthAdjust="spacingAndGlyphs">100</text>
<text x="568.2" y="512.35" textLength="7.2" lengthAdjust="spacingAndGlyphs">80</text>
<text x="568.2" y="539.75" textLength="7.2" lengthAdjust="spacingAndGlyphs">20</text>
<text x="568.2" y="544.95" textLength="3.6" lengthAdjust="spacingAndGlyphs">0</text>
<text x="568.2" y="556.15" textLength="3" lengthAdjust="spacingAndGlyphs">1</text>
<text x="568.2" y="559.75" textLength="3.6" lengthAdjust="spacingAndGlyphs">0</text>
</g>
<g stroke="#333" stroke-width="1">
<line x1="565.5" y1="25" x2="567.6" y2="25"/>
<line x1="565.5" y1="48.4" x2="567.6" y2="48.4"/>
<line x1="565.5" y1="71.8" x2="567.6" y2="71.8"/>
<line x1="565.5" y1="95.2" x2="567.6" y2="95.2"/>
<line x1="565.5" y1="118.6" x2="567.6" y2="118.6"/>
<line x1="565.5" y1="142" x2="567.6" y2="142"/>
<line x1="565.5" y1="165.4" x2="567.6" y2="165.4"/>
<line x1="565.5" y1="188.8" x2="567.6" y2="188.8"/>
<line x1="565.5" y1="212.2" x2="567.6" y2="212.2"/>
<line x1="565.5" y1="235.6" x2="567.6" y2="235.6"/>
<line x1="565.5" y1="259" x2="567.6" y2="259"/>
<line x1="565.5" y1="282.4" x2="567.6" y2="282.4"/>
<line x1="565.5" y1="305.8" x2="567.6" y2="305.8"/>
<line x1="565.5" y1="329.2" x2="567.6" y2="329.2"/>
<line x1="565.5" y1="352.6" x2="567.6" y2="352.6"/>
<line x1="565.5" y1="376" x2="567.6" y2="376"/>
<line x1="565.5" y1="381.5" x2="567.6" y2="381.5"/>
<line x1="565.5" y1="445.2" x2="567.6" y2="445.2"/>
<line x1="565.5" y1="475.4" x2="567.6" y2="475.4"/>
<line x1="565.5" y1="501" x2="567.6" y2="501"/>
<line x1="565.5" y1="549.8" x2="567.6" y2="549.8"/>
</g>
<rect x="566.8" y="102.3" width="29.2" height="7.4" fill="#008000"/>
<text x="569.7" y="108.45" font-family="Liberation Sans, Arial, sans-serif" font-size="6.8" textLength="23.4" lengthAdjust="spacingAndGlyphs" fill="#ffffff">0.77350</text>
<rect x="566.8" y="123.6" width="29.2" height="7.4" fill="#008000"/>
<text x="569.7" y="129.75" font-family="Liberation Sans, Arial, sans-serif" font-size="6.8" textLength="23.4" lengthAdjust="spacingAndGlyphs" fill="#ffffff">0.77120</text>
<rect x="566.8" y="145" width="29.2" height="7.4" fill="#008000"/>
<text x="569.7" y="151.15" font-family="Liberation Sans, Arial, sans-serif" font-size="6.8" textLength="23.4" lengthAdjust="spacingAndGlyphs" fill="#ffffff">0.76890</text>
<rect x="566.8" y="180.3" width="29.2" height="7.4" fill="#000000"/>
<text x="569.7" y="186.45" font-family="Liberation Sans, Arial, sans-serif" font-size="6.8" textLength="23.4" lengthAdjust="spacingAndGlyphs" fill="#ffffff">0.76516</text>
<rect x="566.8" y="203.7" width="29.2" height="7.4" fill="#ff0000"/>
<text x="569.7" y="209.85" font-family="Liberation Sans, Arial, sans-serif" font-size="6.8" textLength="23.4" lengthAdjust="spacingAndGlyphs" fill="#ffffff">0.76260</text>
<rect x="566.8" y="225.2" width="29.2" height="7.4" fill="#ff0000"/>
<text x="569.7" y="231.35" font-family="Liberation Sans, Arial, sans-serif" font-size="6.8" textLength="23.4" lengthAdjust="spacingAndGlyphs" fill="#ffffff">0.76030</text>
<rect x="566.8" y="246.6" width="29.2" height="7.4" fill="#ff0000"/>
<text x="569.7" y="252.75" font-family="Liberation Sans, Arial, sans-serif" font-size="6.8" textLength="23.4" lengthAdjust="spacingAndGlyphs" fill="#ffffff">0.75800</text>
<text x="5.3" y="415" font-family="Liberation Sans, Arial, sans-serif" font-size="12.2" fill="#1c2030" stroke="#1c2030" stroke-width="0.15" textLength="36.4" lengthAdjust="spacingAndGlyphs">RSI(14)</text>
<text x="6" y="460" font-family="Liberation Sans, Arial, sans-serif" font-size="12.5" fill="#1c2030" stroke="#1c2030" stroke-width="0.15" textLength="78" lengthAdjust="spacingAndGlyphs">MACD(12,26,9)</text>
<text x="5.7" y="524.4" font-family="Liberation Sans, Arial, sans-serif" font-size="12.2" fill="#1c2030" stroke="#1c2030" stroke-width="0.15" textLength="58.5" lengthAdjust="spacingAndGlyphs">Stoch(5,5,3)</text>
<g stroke="#333" stroke-width="1">
<line x1="23.53" y1="562.5" x2="23.53" y2="565" />
<line x1="68.99" y1="562.5" x2="68.99" y2="565" />
<line x1="114.45" y1="562.5" x2="114.45" y2="565" />
<line x1="159.91" y1="562.5" x2="159.91" y2="565" />
<line x1="205.37" y1="562.5" x2="205.37" y2="565" />
<line x1="250.83" y1="562.5" x2="250.83" y2="565" />
<line x1="296.29" y1="562.5" x2="296.29" y2="565" />
<line x1="341.75" y1="562.5" x2="341.75" y2="565" />
</g>
<g font-family="Liberation Sans, Arial, sans-serif" font-size="6.9" fill="#101020" stroke="#101020" stroke-width="0.18">
<text x="-22" y="571" textLength="37" lengthAdjust="spacingAndGlyphs">17 Jan 08:00</text>
<text x="23.53" y="571" textLength="37" lengthAdjust="spacingAndGlyphs">18 Jan 12:00</text>
<text x="68.99" y="571" textLength="37" lengthAdjust="spacingAndGlyphs">19 Jan 20:00</text>
<text x="114.45" y="571" textLength="37" lengthAdjust="spacingAndGlyphs">21 Jan 04:00</text>
<text x="159.91" y="571" textLength="37" lengthAdjust="spacingAndGlyphs">22 Jan 12:00</text>
<text x="205.37" y="571" textLength="37" lengthAdjust="spacingAndGlyphs">25 Jan 16:00</text>
<text x="250.83" y="571" textLength="37" lengthAdjust="spacingAndGlyphs">27 Jan 00:00</text>
<text x="296.29" y="571" textLength="37" lengthAdjust="spacingAndGlyphs">28 Jan 08:00</text>
<text x="341.75" y="571" textLength="37" lengthAdjust="spacingAndGlyphs">29 Jan 16:00</text>
</g>
</svg>
</body></html>
